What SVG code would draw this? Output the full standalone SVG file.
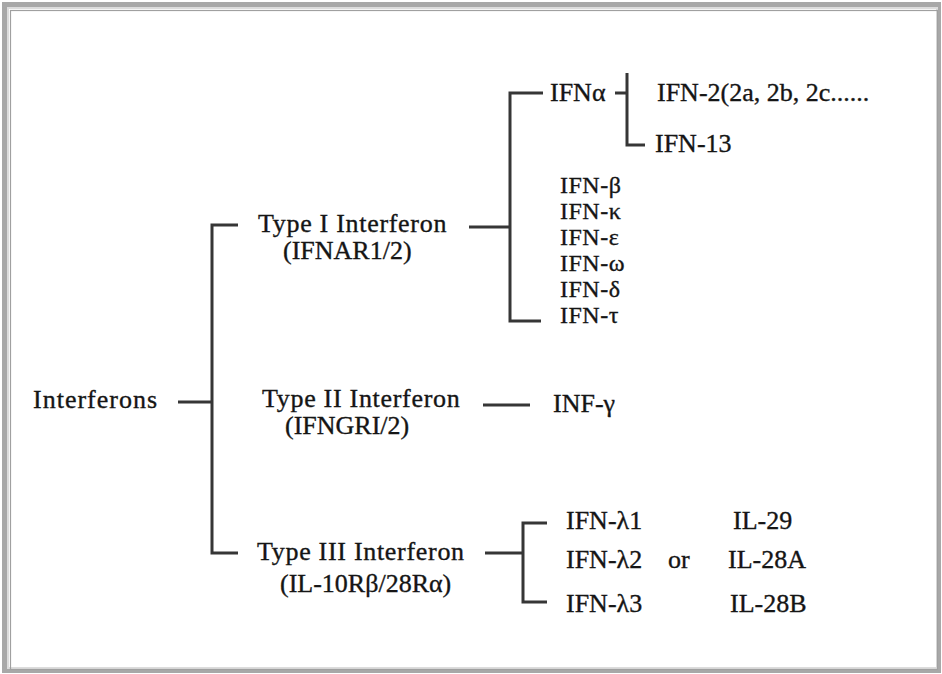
<svg xmlns="http://www.w3.org/2000/svg" width="942" height="674" viewBox="0 0 942 674">
<style>
.t{font-size:26px;fill:#151515;stroke:#151515;stroke-width:0.35px}
.s{font-size:24px;letter-spacing:0.5px}
.w{letter-spacing:0.7px}
.c{fill:none;stroke:#363636;stroke-width:3}
</style>
<rect x="0" y="0" width="942" height="674" fill="#ffffff"/>
<rect x="4.5" y="4.5" width="934" height="666" fill="none" stroke="#a8a8a8" stroke-width="5"/>
<rect x="8" y="8" width="929" height="660" fill="none" stroke="#dcdcdc" stroke-width="2"/>
<rect x="10.5" y="10.5" width="927" height="659" fill="none" stroke="#a0a0a0" stroke-width="1.2"/>
<g id="connectors" class="c">
<path d="M178 402H212M238 225H212V553H238"/>
<path d="M469 227H510M543 93H510V321H541"/>
<path d="M615 93H627M627 73V145H645"/>
<path d="M483 405H530"/>
<path d="M485 553H523M547 523H523V602H547"/>
</g>
<g font-family="Liberation Serif, DejaVu Serif, serif">
<g id="interferons"><text class="t" x="33" y="408" style="letter-spacing:1px">Interferons</text></g>
<g id="type1"><text class="t w" x="258" y="232">Type I Interferon</text><text class="t" x="283" y="259">(IFNAR1/2)</text></g>
<g id="type2"><text class="t w" x="262" y="407">Type II Interferon</text><text class="t" x="285" y="434">(IFNGRI/2)</text></g>
<g id="type3"><text class="t w" x="257" y="560">Type III Interferon</text><text class="t" x="280" y="592">(IL-10Rβ/28Rα)</text></g>
<g id="ifna"><text class="t" x="550" y="101">IFNα</text></g>
<g id="ifn2"><text class="t" x="657" y="101">IFN-2(2a, 2b, 2c......</text></g>
<g id="ifn13"><text class="t" x="655" y="152">IFN-13</text></g>
<g id="ifnb"><text class="t s" x="560" y="193">IFN-β</text></g>
<g id="ifnk"><text class="t s" x="560" y="219">IFN-κ</text></g>
<g id="ifne"><text class="t s" x="560" y="245">IFN-ε</text></g>
<g id="ifnw"><text class="t s" x="560" y="271">IFN-ω</text></g>
<g id="ifnd"><text class="t s" x="560" y="297">IFN-δ</text></g>
<g id="ifnt"><text class="t s" x="560" y="323">IFN-τ</text></g>
<g id="infg"><text class="t" x="553" y="412">INF-γ</text></g>
<g id="ifnl1"><text class="t" x="566" y="529">IFN-λ1</text><text class="t" x="733" y="529">IL-29</text></g>
<g id="ifnl2"><text class="t" x="566" y="568">IFN-λ2</text><text class="t" x="668" y="568">or</text><text class="t" x="728" y="568">IL-28A</text></g>
<g id="ifnl3"><text class="t" x="566" y="612">IFN-λ3</text><text class="t" x="730" y="612">IL-28B</text></g>
</g>
</svg>
